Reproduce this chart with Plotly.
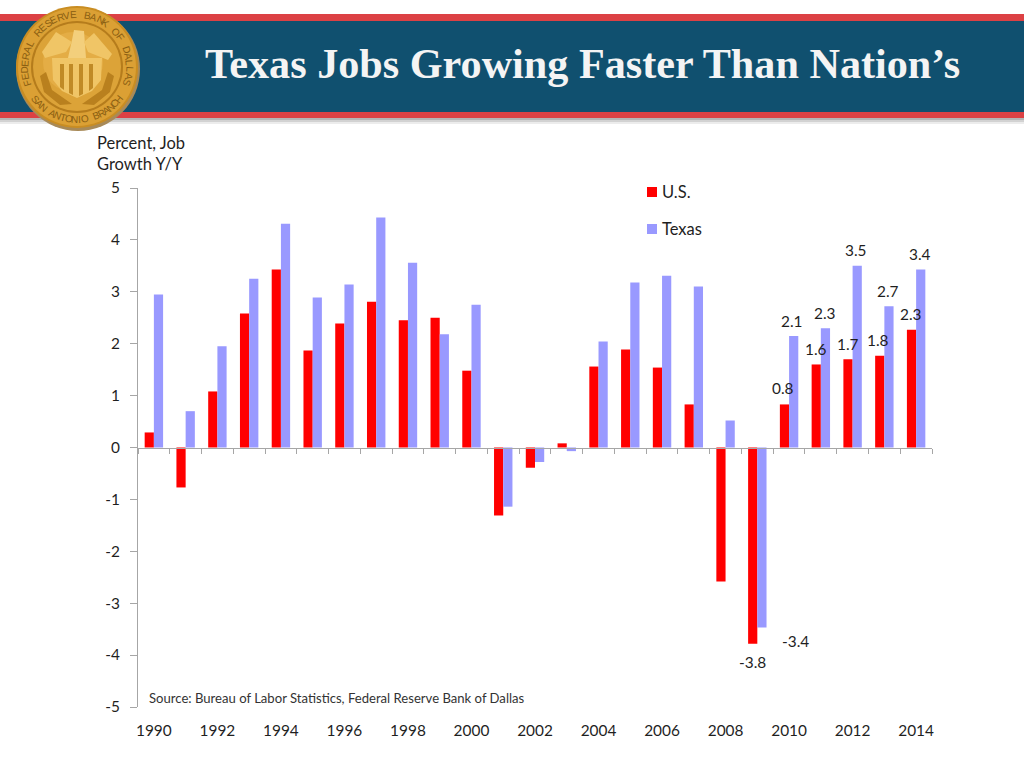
import math
import plotly.graph_objects as go

years = list(range(1990, 2015))
year_ticks = list(range(1990, 2015, 2))
y_ticks = list(range(-5, 6))
us = [0.29, -0.77, 1.08, 2.58, 3.43, 1.87, 2.39, 2.81, 2.45, 2.50, 1.48, -1.31, -0.39,
      0.08, 1.56, 1.89, 1.54, 0.83, -2.58, -3.78, 0.83, 1.60, 1.70, 1.77, 2.27]
texas = [2.95, 0.70, 1.95, 3.25, 4.31, 2.89, 3.14, 4.43, 3.56, 2.18, 2.75, -1.14, -0.28,
         -0.07, 2.04, 3.18, 3.31, 3.10, 0.52, -3.47, 2.15, 2.30, 3.50, 2.72, 3.43]

# label text, year, value, xshift, yshift
bar_labels = [
    ("0.8", 2010, 0.83, -6, 16),
    ("2.1", 2010, 2.15, 3, 15),
    ("1.6", 2011, 1.60, -5, 15),
    ("2.3", 2011, 2.30, 4, 15),
    ("1.7", 2012, 1.70, -5, 15),
    ("3.5", 2012, 3.50, 3, 16),
    ("1.8", 2013, 1.77, -6, 16),
    ("2.7", 2013, 2.72, 4, 15),
    ("2.3", 2014, 2.27, -5, 16),
    ("3.4", 2014, 3.43, 4, 15),
    ("-3.8", 2009, -3.78, -5, -18),
    ("-3.4", 2009, -3.47, 38, -13),
]

W, H = 1024, 768
LEFT, RIGHT, TOP, BOTTOM = 138, 932, 188, 707
SANS = "Lato, Carlito, sans-serif"
DARK = "#1f1f1f"
AXIS = "#a6a6a6"
US_COLOR = "#ff0000"
TEXAS_COLOR = "#9999ff"


# page pixels to the plot area's paper coordinates
def px(x):
    return (x - LEFT) / (RIGHT - LEFT)


def py(y):
    return (BOTTOM - y) / (BOTTOM - TOP)


def rect(x0, y0, x1, y1, color):
    return dict(type="rect", xref="paper", yref="paper", x0=px(x0), x1=px(x1),
                y0=py(y1), y1=py(y0), fillcolor=color, line_width=0, layer="above")


def disc(cx, cy, r, fill):
    return dict(type="circle", xref="paper", yref="paper",
                x0=px(cx - r), x1=px(cx + r), y0=py(cy + r), y1=py(cy - r),
                fillcolor=fill, line_width=0, layer="above")


def poly(points, fill):
    # decorative logo shape, given in page pixels
    d = "M" + "L".join(f"{px(x):.5f},{py(y):.5f}" for x, y in points) + "Z"
    return dict(type="path", xref="paper", yref="paper", path=d, fillcolor=fill,
                line_width=0, layer="above")


def page_text(text, x, y, size, color=DARK, family=SANS, anchor="left"):
    return dict(text=text, x=px(x), y=py(y), xref="paper", yref="paper", xanchor=anchor,
                yanchor="middle", align="left", showarrow=False,
                font=dict(family=family, size=size, color=color))


fig = go.Figure()
fig.add_trace(go.Bar(x=years, y=us, name="U.S.", marker_color=US_COLOR, marker_line_width=0))
fig.add_trace(go.Bar(x=years, y=texas, name="Texas", marker_color=TEXAS_COLOR, marker_line_width=0))
# carries the second x axis, the one with the tick marks on the zero line
fig.add_trace(go.Scatter(x=years, y=[None] * len(years), xaxis="x2", mode="lines",
                         showlegend=False, hoverinfo="skip"))

# banner
shapes = [
    rect(0, 118, W, 120, "#b5b5b5"),
    rect(0, 120, W, 122, "#d2d2d2"),
    rect(0, 122, W, 124, "#ececec"),
    rect(0, 14, W, 21, "#dc4144"),
    rect(0, 21, W, 112, "#10506f"),
    rect(0, 112, W, 118, "#dc4144"),
]

# medal
cx, cy = 77, 67
shapes += [
    disc(cx + 1, cy + 2, 62, "#a88a58"),
    disc(cx, cy, 61, "#c98d22"),
    disc(cx, cy, 59, "#dba034"),
    disc(cx, cy, 46, "#b57c1c"),
    disc(cx, cy, 44, "#dca338"),
    disc(cx - 4, cy - 5, 30, "#e4ad45"),
    poly([(52, 58), (102, 58), (101, 80), (92, 91), (77, 98), (62, 91), (53, 80)], "#f0c566"),
    poly([(60, 64), (64, 64), (64, 90), (60, 87)], "#c08a26"),
    poly([(69, 64), (73, 64), (73, 95), (69, 93)], "#c08a26"),
    poly([(79, 64), (83, 64), (83, 94), (79, 96)], "#c08a26"),
    poly([(89, 64), (93, 64), (93, 88), (89, 91)], "#c08a26"),
    poly([(74, 30), (84, 31), (86, 58), (68, 58), (72, 40)], "#f3cf7c"),
    poly([(72, 42), (56, 32), (42, 52), (45, 58), (66, 52)], "#f0c566"),
    poly([(84, 42), (94, 33), (112, 54), (108, 60), (88, 52)], "#f0c566"),
    poly([(46, 72), (52, 90), (72, 104), (60, 105), (44, 92), (40, 76)], "#b9801e"),
    poly([(108, 72), (102, 90), (82, 104), (94, 105), (110, 92), (114, 76)], "#b9801e"),
]

# legend, placed by hand since its swatch and text sit closer than a plotly legend allows
shapes += [rect(647, 187, 657, 197, US_COLOR), rect(647, 224, 657, 234, TEXAS_COLOR)]

annotations = [
    dict(text=t, x=y, y=v, xref="x", yref="y", xshift=dx, yshift=dy, showarrow=False,
         font=dict(family=SANS, size=15.4, color=DARK))
    for t, y, v, dx, dy in bar_labels
]

# medal lettering
for word, start, end, flip in [("FEDERAL RESERVE BANK OF DALLAS", -108, 108, False),
                               ("SAN ANTONIO BRANCH", 232, 128, True)]:
    n = len(word)
    for i, ch in enumerate(word):
        a = start + (end - start) * i / (n - 1)
        rad = math.radians(a)
        letter = page_text(ch, cx + 52.5 * math.sin(rad), cy - 52.5 * math.cos(rad), 10,
                           color="#8a5e12", family="Liberation Sans", anchor="center")
        letter["textangle"] = a - 180 if flip else a
        annotations.append(letter)

annotations += [
    page_text("<b>Texas Jobs Growing Faster Than Nation’s</b>", 582.5, 63, 42.2, color="#f4f4f4",
              family="Liberation Serif", anchor="center"),
    page_text("Percent, Job<br>Growth Y/Y", 95, 153, 16.5),
    page_text("Source: Bureau of Labor Statistics, Federal Reserve Bank of Dallas", 147, 698, 13.1,
              color="#333333"),
    page_text("U.S.", 660, 192, 16.5),
    page_text("Texas", 660, 229, 16.5),
]

fig.update_layout(
    width=W,
    height=H,
    margin=dict(l=LEFT, r=W - RIGHT, t=TOP, b=H - BOTTOM, pad=0),
    paper_bgcolor="white",
    plot_bgcolor="white",
    barmode="group",
    bargap=0.42,
    bargroupgap=0,
    shapes=shapes,
    annotations=annotations,
    showlegend=False,
    xaxis=dict(range=[1989.5, 2014.5], tickmode="array", tickvals=year_ticks,
               ticktext=[str(y) for y in year_ticks], showgrid=False, zeroline=False,
               ticks="", showline=False, ticklabelstandoff=13,
               tickfont=dict(family=SANS, size=15.4, color=DARK)),
    xaxis2=dict(range=[1989.5, 2014.5], overlaying="x", anchor="free", position=0.5, side="bottom",
                tick0=1989.5, dtick=1, ticks="outside", ticklen=5, tickcolor=AXIS,
                showticklabels=False, showgrid=False, zeroline=False, showline=True,
                linecolor=AXIS, linewidth=1),
    yaxis=dict(range=[-5, 5], tickmode="array", tickvals=y_ticks,
               ticktext=[str(v) for v in y_ticks], ticks="outside", ticklen=7, tickcolor=AXIS,
               showline=True, linecolor=AXIS, linewidth=1, showgrid=False, zeroline=False,
               ticklabelstandoff=7, tickfont=dict(family=SANS, size=15.4, color=DARK)),
)

fig.write_html("out.html", config={"displayModeBar": False},
               post_script="document.body.style.margin = 0;")
